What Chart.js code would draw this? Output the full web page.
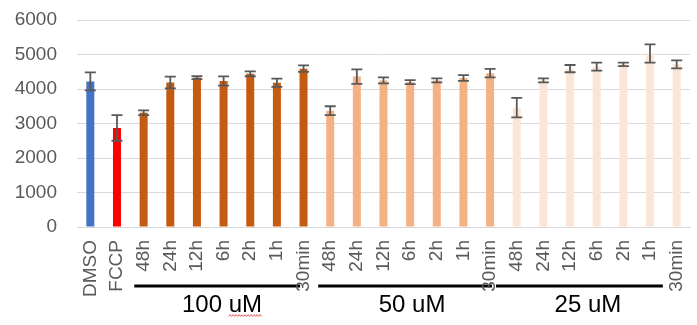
<!DOCTYPE html>
<html>
<head>
<meta charset="utf-8">
<script src="https://cdn.jsdelivr.net/npm/chart.js@4.4.1/dist/chart.umd.min.js"></script>
<style>
  html, body { margin: 0; padding: 0; background: #ffffff; }
  #wrap { width: 697px; height: 325px; position: relative; }
</style>
</head>
<body>
<div id="wrap"><canvas id="chart"></canvas></div>
<script>
// Control wells and treatment time points per dose
const controls = ['DMSO', 'FCCP'];
const timepoints = ['48h', '24h', '12h', '6h', '2h', '1h', '30min'];
const doses = ['100 uM', '50 uM', '25 uM'];

// One bar per well condition: controls, then each dose across time points
const categories = [...controls, ...doses.flatMap(() => timepoints)];
const barGroup = [...controls, ...doses.flatMap(d => timepoints.map(() => d))];

// Mean signal and error per bar
const meanValues = [
  4220, 2870,
  3310, 4190, 4330, 4230, 4440, 4180, 4590,
  3370, 4360, 4250, 4200, 4250, 4320, 4460,
  3460, 4250, 4590, 4650, 4715, 5030, 4715
];
const errorValues = [
  260, 370,
  70, 170, 45, 135, 70, 120, 95,
  130, 210, 85, 60, 60, 85, 125,
  285, 60, 105, 115, 50, 265, 115
];

// Value axis tick labels
const yTicks = [0, 1000, 2000, 3000, 4000, 5000, 6000];

const palette = {
  'DMSO': '#4472C4',
  'FCCP': '#FF0000',
  '100 uM': '#C55A11',
  '50 uM': '#F4B183',
  '25 uM': '#FBE5D6'
};

// Bracket under each dose group, in category units
const doseBrackets = {
  '100 uM': { from: 1.65, to: 7.87, text: 4.94 },
  '50 uM':  { from: 8.55, to: 15.07, text: 12.07 },
  '25 uM':  { from: 15.22, to: 21.48, text: 18.67 }
};

const FONT = '"Liberation Sans", Arial, sans-serif';
const GREY = '#595959';

const errorBars = {
  id: 'errorBars',
  afterDatasetsDraw(chart) {
    const { ctx, scales: { y } } = chart;
    const meta = chart.getDatasetMeta(0);
    ctx.save();
    ctx.strokeStyle = GREY;
    ctx.lineWidth = 1.8;
    meta.data.forEach((bar, i) => {
      const top = y.getPixelForValue(meanValues[i] + errorValues[i]);
      const bot = y.getPixelForValue(meanValues[i] - errorValues[i]);
      const half = 5.5;
      ctx.beginPath();
      ctx.moveTo(bar.x, top); ctx.lineTo(bar.x, bot);
      ctx.moveTo(bar.x - half, top); ctx.lineTo(bar.x + half, top);
      ctx.moveTo(bar.x - half, bot); ctx.lineTo(bar.x + half, bot);
      ctx.stroke();
    });
    ctx.restore();
  }
};

const doseLabels = {
  id: 'doseLabels',
  beforeDraw(chart) {
    // brackets sit behind the rotated tick labels
    const { ctx, scales: { x } } = chart;
    ctx.save();
    ctx.strokeStyle = '#000000';
    ctx.lineWidth = 3;
    doses.forEach(d => {
      const b = doseBrackets[d];
      ctx.beginPath();
      ctx.moveTo(x.getPixelForValue(b.from), 286);
      ctx.lineTo(x.getPixelForValue(b.to), 286);
      ctx.stroke();
    });
    ctx.restore();
  },
  afterDraw(chart) {
    const { ctx, scales: { x } } = chart;
    ctx.save();
    ctx.fillStyle = '#000000';
    ctx.font = '24px ' + FONT;
    ctx.textAlign = 'center';
    ctx.textBaseline = 'alphabetic';
    doses.forEach(d => {
      ctx.fillText(d, x.getPixelForValue(doseBrackets[d].text), 312);
    });
    // spell-check squiggle under the first "uM"
    const first = doseBrackets[doses[0]];
    const cx = x.getPixelForValue(first.text);
    const full = ctx.measureText(doses[0]).width;
    const unit = ctx.measureText('uM').width;
    const x1 = cx + full / 2 - unit, x2 = cx + full / 2;
    ctx.strokeStyle = '#E03030';
    ctx.lineWidth = 0.8;
    ctx.beginPath();
    for (let px = x1, k = 0; px <= x2; px += 1.5, k++) {
      const py = 315.5 + (k % 2 ? -0.9 : 0.9);
      if (k === 0) ctx.moveTo(px, py); else ctx.lineTo(px, py);
    }
    ctx.stroke();
    ctx.restore();
  }
};

new Chart(document.getElementById('chart'), {
  type: 'bar',
  data: {
    labels: categories,
    datasets: [{
      data: meanValues,
      backgroundColor: barGroup.map(g => palette[g]),
      borderWidth: 0,
      categoryPercentage: 1.0,
      barPercentage: 0.3
    }]
  },
  options: {
    responsive: true,
    maintainAspectRatio: false,
    animation: false,
    devicePixelRatio: 1,
    layout: { padding: { top: 20, right: 7, bottom: 0, left: 0 } },
    plugins: { legend: { display: false }, tooltip: { enabled: false } },
    scales: {
      x: {
        grid: { display: false, drawTicks: false },
        border: { display: true, color: '#D9D9D9', width: 1 },
        ticks: {
          autoSkip: false,
          minRotation: 90,
          maxRotation: 90,
          padding: 13,
          color: GREY,
          font: { family: FONT, size: 19 }
        },
        afterFit(scale) {
          scale.height = 98;
          scale.paddingLeft = 0;
          scale.paddingRight = 0;
        }
      },
      y: {
        min: yTicks[0],
        max: yTicks[yTicks.length - 1],
        afterBuildTicks(scale) { scale.ticks = yTicks.map(v => ({ value: v })); },
        grid: { color: '#D9D9D9', lineWidth: 1, drawTicks: false },
        border: { display: false },
        ticks: {
          padding: 20,
          color: GREY,
          font: { family: FONT, size: 19 },
          callback: v => String(v)
        },
        afterFit(scale) {
          scale.width = 77;
          scale.paddingTop = 0;
          scale.paddingBottom = 0;
        }
      }
    }
  },
  plugins: [errorBars, doseLabels]
});
</script>
</body>
</html>
